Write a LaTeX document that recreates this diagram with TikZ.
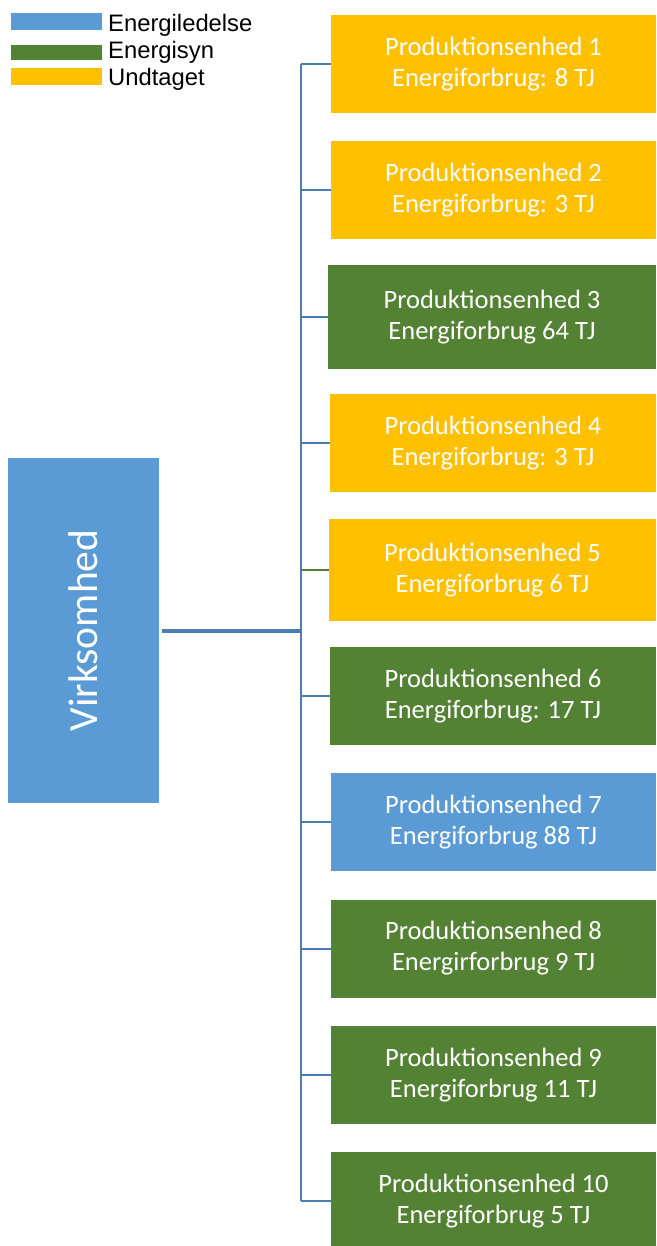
\documentclass[tikz,border=0pt]{standalone}
\usepackage{fontspec}
\setmainfont{Carlito}
\newfontfamily\arialfont{Liberation Sans}
\usepackage{xcolor}
\usepackage{tikz}
\definecolor{ledelse}{HTML}{5B9BD5}
\definecolor{syn}{HTML}{548235}
\definecolor{undtaget}{HTML}{FFC000}
\definecolor{linje}{HTML}{4A7DB0}
\tikzset{
  unit/.style={rectangle, inner sep=0pt, text=white, align=center,
    minimum width=325pt, minimum height=98pt,
    font=\fontsize{26.5}{31}\selectfont},
  legendbar/.style={rectangle, inner sep=0pt, minimum width=91pt, minimum height=17pt},
  legendtext/.style={anchor=base west, inner sep=0pt, font=\arialfont\fontsize{23.8}{26}\selectfont},
  branch/.style={draw=linje, line width=2pt},
  hub/.style={draw=linje, line width=4pt}
}

\begin{document}
\begin{tikzpicture}[x=1pt, y=-1pt]
        \useasboundingbox (0,0) rectangle (656,1246);

        % legend
        \node[legendbar, fill=ledelse] (lg1) at (56.5,21.5) {};
        \node[legendbar, fill=syn, minimum height=15pt] (lg2) at (56.5,52.5) {};
        \node[legendbar, fill=undtaget] (lg3) at (56.5,77) {};
        \node[legendtext] (lt1) at (108,31.5) {Energiledelse};
        \node[legendtext] (lt2) at (108,58.5) {Energisyn};
        \node[legendtext] (lt3) at (108,85.5) {Undtaget};

        % company
        \node[unit, fill=ledelse, rotate=90, minimum width=345pt, minimum height=151pt,
          font=\fontsize{41.5}{45}\selectfont] (firm) at (83.5,630.5) {Virksomhed};

        % production units
        \node[unit, fill=undtaget] (p1) at (493.5,64) {Produktionsenhed 1\\Energiforbrug: 8 TJ};
        \node[unit, fill=undtaget] (p2) at (493.5,190.5) {Produktionsenhed 2\\Energiforbrug: 3 TJ};
        \node[unit, fill=syn, minimum width=328pt, minimum height=104pt] (p3) at (492,317) {Produktionsenhed 3\\Energiforbrug 64 TJ};
        \node[unit, fill=undtaget, minimum width=326pt] (p4) at (493,443) {Produktionsenhed 4\\Energiforbrug: 3 TJ};
        \node[unit, fill=undtaget, minimum width=327pt, minimum height=102pt] (p5) at (492.5,570) {Produktionsenhed 5\\Energiforbrug 6 TJ};
        \node[unit, fill=syn, minimum width=326pt] (p6) at (493,696) {Produktionsenhed 6\\Energiforbrug: 17 TJ};
        \node[unit, fill=ledelse] (p7) at (493.5,822) {Produktionsenhed 7\\Energiforbrug 88 TJ};
        \node[unit, fill=syn] (p8) at (493.5,948.5) {Produktionsenhed 8\\Energirforbrug 9 TJ};
        \node[unit, fill=syn] (p9) at (493.5,1075) {Produktionsenhed 9\\Energiforbrug 11 TJ};
        \node[unit, fill=syn] (p10) at (493.5,1201) {Produktionsenhed 10\\Energiforbrug 5 TJ};

        \coordinate (trunk) at (301,631.5);

        \draw[hub, shorten <=3pt] (firm.south) -- (firm.south -| trunk);
        \draw[branch, line width=2.5pt] (p1.west -| trunk) -- (p10.west -| trunk);

        \foreach \to in {p1, p2, p3, p4, p6, p7, p8, p9, p10}
        \draw[branch] (\to.west -| trunk) -- (\to.west);
        \draw[branch, draw=syn] (p5.west -| trunk) -- (p5.west);
      \end{tikzpicture}
\end{document}
